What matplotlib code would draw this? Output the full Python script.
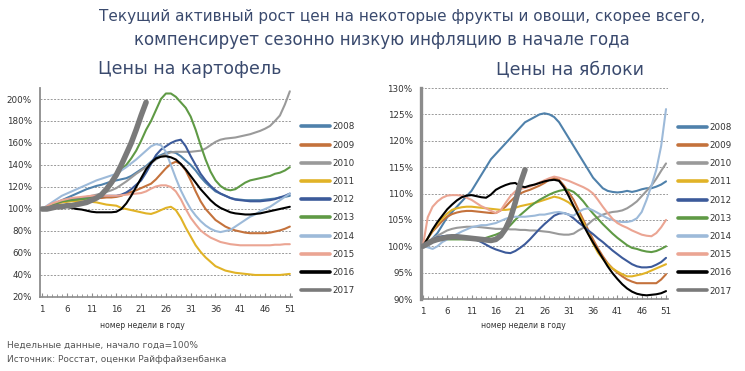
import numpy as np
import matplotlib
matplotlib.use("Agg")
import matplotlib.pyplot as plt

plt.rcParams['font.family'] = ['DejaVu Sans']

years = ['2008', '2009', '2010', '2011', '2012', '2013', '2014', '2015', '2016', '2017']
colors = ['#4f81ab', '#c4723c', '#9a9a9a', '#e1b327', '#3c5a9a',
          '#5f9a45', '#9dbad9', '#eba593', '#000000', '#7a7a7a']
week_ticks = [1, 6, 11, 16, 21, 26, 31, 36, 41, 46, 51]

# potato prices, start of year = 100%
potato = {
    '2008': [100, 102, 104, 106, 108, 110, 112, 114, 116, 118,
             119.5, 121, 122, 123.5, 125, 126, 127, 128, 130, 133,
             136, 139, 143, 147, 149, 151, 152, 151, 148, 144,
             140, 135, 129, 124, 120, 116, 114, 112, 110, 109,
             108.5, 108, 108, 108, 108, 108.5, 109, 109.5, 110.5, 111, 112],
    '2009': [100, 102, 104, 105.5, 107, 107.5, 108, 108.5, 109, 109.5,
             110, 110, 110, 110.5, 110.5, 111, 112, 114, 115.5, 117,
             119, 121, 123, 127, 132, 137, 141, 143, 141, 135,
             126, 116, 107, 100, 95, 90, 87, 84, 82, 80.5,
             79.5, 78.5, 78, 78, 78, 78, 78.5, 79.5, 80.5, 82, 84],
    '2010': [100, 101.5, 103, 104.5, 106, 107, 108, 109, 110, 111,
             112, 113, 114, 115.5, 117, 119, 122, 125, 128.5, 132,
             135, 138, 141.5, 145, 148, 150, 151.5, 152, 152, 152,
             152, 152.5, 153, 155, 158, 161, 163, 164, 164.5, 165,
             166, 167, 168, 169.5, 171, 173, 175.5, 180, 185, 195, 207],
    '2011': [100, 102, 104, 105, 106, 106.5, 107, 107, 107, 106.5,
             106.5, 106, 105, 104, 103.5, 103, 101, 100, 99, 98,
             97, 96, 95.5, 97, 99, 101, 102, 99, 92, 83,
             75, 67, 61, 56, 52, 48, 46, 44, 43, 42,
             41.5, 41, 40.5, 40, 40, 40, 40, 40, 40, 40.5, 41],
    '2012': [100, 102, 104, 105.5, 107, 108, 109, 109.5, 110, 110.5,
             111, 111, 111.5, 112, 112, 112, 113, 115, 118, 122,
             126, 133, 141, 149, 154, 157, 160, 162, 163, 157,
             148, 140, 132, 126, 121, 117, 114, 112, 110, 108.5,
             108, 107.5, 107, 107, 107, 107.5, 108, 109, 110.5, 112, 114],
    '2013': [100, 102, 104, 105.5, 107, 107.5, 108, 108.5, 109, 109.5,
             110, 110.5, 112, 116, 122, 130, 136, 140, 146, 153,
             162, 172, 180, 190, 200, 205, 205, 202, 197, 192,
             184, 172, 158, 145, 134, 126, 121, 118, 117, 118,
             121, 124, 126, 127, 128, 129, 130, 132, 133, 135, 138],
    '2014': [100, 103, 106, 109, 112, 114, 116, 118, 120, 122,
             124, 126, 127.5, 129, 130.5, 132, 135, 138, 141.5, 145,
             149, 153, 157, 159, 158, 152, 140, 128, 117, 108,
             100, 94, 89, 85, 82, 80, 79, 80, 81, 84,
             87, 90, 93, 95, 98, 100, 102, 105, 108, 111, 114],
    '2015': [100, 102.5, 105, 106.5, 108, 109, 110, 110.5, 111, 111.5,
             112, 112, 112, 112, 112, 112, 112.5, 113, 113.5, 114,
             114.5, 116, 118.5, 120.5, 121.5, 121.5, 120, 116, 109, 100,
             92, 86, 80.5, 77, 74, 72, 70, 69, 68, 67.5,
             67, 67, 67, 67, 67, 67, 67, 67.5, 67.5, 68, 68],
    '2016': [100, 101, 101.5, 102, 102, 102, 101, 100, 99.5, 98.5,
             97.5, 97, 97, 97, 97, 97.5, 100, 105, 112, 120,
             128, 136, 142, 146, 147.5, 148, 147, 145, 141, 136,
             130, 124, 118, 113, 108, 104, 101, 99, 97, 96,
             95.5, 95, 95, 95.5, 96, 97, 98, 99, 100, 101, 102],
    '2017': [100, 100, 101, 102, 102, 103, 103, 104, 105, 106,
             108, 110, 113, 118, 124, 131, 140, 150, 160, 172,
             185, 197],
}

# apple prices, start of year = 100%
apples = {
    '2008': [100, 100.5, 101.5, 102.5, 104, 105.5, 106.5, 107.5, 108.5, 109.5,
             110.5, 112, 113.5, 115, 116.5, 117.5, 118.5, 119.5, 120.5, 121.5,
             122.5, 123.5, 124, 124.5, 125, 125.2, 125, 124.5, 123.5, 122,
             120.5, 119, 117.5, 116, 114.5, 113, 112, 111, 110.5, 110.3,
             110.2, 110.3, 110.5, 110.3, 110.5, 110.8, 111, 111, 111.3, 111.7, 112.3],
    '2009': [100, 101.5, 102.8, 103.8, 104.8, 105.6, 106.1, 106.4, 106.6, 106.7,
             106.7, 106.6, 106.5, 106.4, 106.3, 106.3, 106.8, 107.5, 108.5, 109.4,
             110, 110.4, 110.7, 111.1, 111.5, 112, 112.6, 113, 112.6, 111.5,
             110.2, 108.8, 106.9, 105, 103.1, 101.3, 99.6, 98.1, 96.8, 95.8,
             95, 94.3, 93.7, 93.3, 93, 93, 93, 93, 93, 93.7, 94.7],
    '2010': [100, 100.8, 101.5, 102, 102.5, 103, 103.3, 103.5, 103.6, 103.7,
             103.7, 103.7, 103.6, 103.5, 103.4, 103.3, 103.3, 103.3, 103.2, 103.2,
             103.1, 103.1, 103, 103, 102.9, 102.8, 102.7, 102.5, 102.3, 102.2,
             102.2, 102.4, 103, 103.5, 104.2, 105, 105.5, 106, 106.3, 106.5,
             106.6, 106.8, 107.2, 107.8, 108.5, 109.5, 110.5, 111.5, 112.8, 114.3, 115.7],
    '2011': [100, 101.5, 103, 104.3, 105.3, 106.2, 106.9, 107.2, 107.4, 107.5,
             107.5, 107.4, 107.3, 107.2, 107.1, 107, 106.9, 106.9, 107, 107.3,
             107.6, 107.8, 108, 108.2, 108.5, 108.8, 109.1, 109.4, 109.2, 108.8,
             108.3, 107.5, 106.3, 104.5, 102.5, 100.5, 98.8, 97.6, 96.6, 95.8,
             95.2, 94.7, 94.3, 94.3, 94.5, 94.7, 95, 95.4, 95.8, 96.2, 96.6],
    '2012': [100, 100.8, 101.3, 101.7, 101.9, 102, 102, 102, 101.8, 101.6,
             101.4, 101.2, 100.8, 100.3, 99.8, 99.4, 99.1, 98.8, 98.7, 99.1,
             99.7, 100.4, 101.3, 102.3, 103.3, 104.2, 105, 105.8, 106.2, 106.3,
             106, 105.3, 104.5, 103.8, 103, 102.3, 101.5, 100.8, 100, 99.2,
             98.5, 97.8, 97.2, 96.6, 96.2, 96, 96, 96.1, 96.5, 97, 97.8],
    '2013': [100, 100.5, 101, 101.2, 101.3, 101.3, 101.3, 101.3, 101.3, 101.3,
             101.3, 101.3, 101.4, 101.6, 101.9, 102.2, 102.6, 103.1, 104, 105,
             105.9, 106.7, 107.5, 108.2, 108.8, 109.3, 109.8, 110.2, 110.5, 110.7,
             110.7, 110.3, 109.5, 108.5, 107.3, 106.2, 105.2, 104.2, 103.3, 102.4,
             101.6, 100.9, 100.2, 99.7, 99.5, 99.2, 99, 98.9, 99.1, 99.5, 100],
    '2014': [100, 99.8, 99.5, 100, 100.8, 101.3, 101.8, 102.3, 102.8, 103.2,
             103.6, 103.8, 104, 104, 104.2, 104.4, 104.8, 105.2, 105.5, 105.6,
             105.6, 105.6, 105.7, 105.8, 106, 106, 106.2, 106.4, 106.5, 106.3,
             106, 105.8, 106.5, 107, 107.2, 106.8, 106.3, 105.8, 105.3, 105,
             104.7, 104.6, 104.6, 104.8, 105.3, 106.5, 108.8, 111.5, 114.5, 119, 126],
    '2015': [100, 105.5, 107.5, 108.5, 109.2, 109.6, 109.7, 109.7, 109.6, 109.2,
             108.8, 108.2, 107.6, 107.2, 106.7, 106.3, 106.8, 108.2, 109.5, 110.4,
             110.8, 111.1, 111.3, 111.7, 112.1, 112.5, 112.9, 113.2, 113, 112.7,
             112.4, 112, 111.6, 111.2, 110.7, 110, 108.8, 107.5, 106.3, 105.2,
             104.4, 103.9, 103.5, 103, 102.6, 102.2, 102, 101.9, 102.5, 103.6, 105],
    '2016': [100, 101.5, 103.2, 104.6, 105.8, 107, 107.9, 108.7, 109.3, 109.6,
             109.7, 109.5, 109.3, 109.2, 109.8, 110.7, 111.2, 111.6, 111.9, 112,
             111.4, 111.2, 111.5, 111.7, 112, 112.3, 112.5, 112.6, 112.4, 111.2,
             109.5, 107.6, 105.8, 104, 102.3, 100.7, 99.2, 97.7, 96.2, 94.9,
             93.8, 92.8, 92, 91.4, 91, 90.8, 90.7, 90.8, 90.9, 91.1, 91.5],
    '2017': [100, 100.5, 101, 101.3, 101.5, 101.7, 101.8, 101.8, 101.7, 101.6,
             101.5, 101.4, 101.3, 101.2, 101.1, 101.3, 102, 103.3, 105.3, 108.3,
             111.8, 114.5],
}

TITLE_COLOR = '#3a4a6e'
TEXT_COLOR = '#333333'


def draw_panel(ax, data, ylim, yticks, spine_w, legend_pos):
    for year, col in zip(years, colors):
        vals = data[year]
        weeks = np.arange(1, len(vals) + 1)
        lw = 4.0 if year == '2017' else 1.5
        ax.plot(weeks, vals, color=col, lw=lw, label=year,
                solid_capstyle='round', zorder=3 if year != '2017' else 4)
    ax.set_xlim(0.6, 51.4)
    ax.set_ylim(*ylim)
    ax.set_yticks(yticks)
    ax.set_yticklabels(['%d%%' % v for v in yticks])
    ax.set_xticks(week_ticks)
    ax.set_xticks(np.arange(1, 52), minor=True)
    ax.yaxis.grid(True, color='#9a9a9a', linestyle=(0, (2, 1.5)), lw=0.7)
    ax.set_axisbelow(True)
    for s in ['top', 'right']:
        ax.spines[s].set_visible(False)
    ax.spines['left'].set_color('#8c8c8c')
    ax.spines['left'].set_linewidth(spine_w)
    ax.spines['bottom'].set_color('#8c8c8c')
    ax.spines['bottom'].set_linewidth(1.2)
    ax.tick_params(axis='y', length=0, pad=6, labelsize=6.3, labelcolor=TEXT_COLOR)
    ax.tick_params(axis='x', which='major', length=3, direction='in',
                   color='#8c8c8c', pad=6, labelsize=6.3, labelcolor=TEXT_COLOR)
    ax.tick_params(axis='x', which='minor', length=2, direction='in', color='#8c8c8c')
    leg = ax.legend(loc='upper left', bbox_to_anchor=legend_pos, frameon=False,
                    fontsize=6.3, handlelength=3.3, handletextpad=0.3,
                    labelspacing=1.05, borderpad=0, borderaxespad=0)
    for line in leg.get_lines():
        line.set_linewidth(2.6)
    for t in leg.get_texts():
        t.set_color(TEXT_COLOR)


fig = plt.figure(figsize=(7.45, 3.71), dpi=100)
fig.patch.set_facecolor('white')

ax1 = fig.add_axes([0.0537, 0.1995, 0.338, 0.5633])
draw_panel(ax1, potato, (20, 210), list(range(20, 201, 20)), 1.3, (1.035, 0.835))

ax2 = fig.add_axes([0.565, 0.194, 0.3316, 0.5688])
draw_panel(ax2, apples, (90, 130), list(range(90, 131, 5)), 2.4, (1.04, 0.835))

fig.text(0.54, 1 - 17 / 371, 'Текущий активный рост цен на некоторые фрукты и овощи, скорее всего,',
         ha='center', va='center', fontsize=11, color=TITLE_COLOR)
fig.text(0.512, 1 - 40 / 371, 'компенсирует сезонно низкую инфляцию в начале года',
         ha='center', va='center', fontsize=12, color=TITLE_COLOR)
fig.text(190 / 745, 1 - 69 / 371, 'Цены на картофель',
         ha='center', va='center', fontsize=12.5, color=TITLE_COLOR)
fig.text(570 / 745, 1 - 69 / 371, 'Цены на яблоки',
         ha='center', va='center', fontsize=12.5, color=TITLE_COLOR)

fig.text(142 / 745, 1 - 325 / 371, 'номер недели в году',
         ha='center', va='center', fontsize=5.5, color=TEXT_COLOR)
fig.text(523 / 745, 1 - 326 / 371, 'номер недели в году',
         ha='center', va='center', fontsize=5.5, color=TEXT_COLOR)

fig.text(7 / 745, 1 - 345 / 371, 'Недельные данные, начало года=100%',
         ha='left', va='center', fontsize=6.5, color='#555555')
fig.text(7 / 745, 1 - 359 / 371, 'Источник: Росстат, оценки Райффайзенбанка',
         ha='left', va='center', fontsize=6.5, color='#555555')

fig.savefig('out.png', dpi=100, facecolor='white')
